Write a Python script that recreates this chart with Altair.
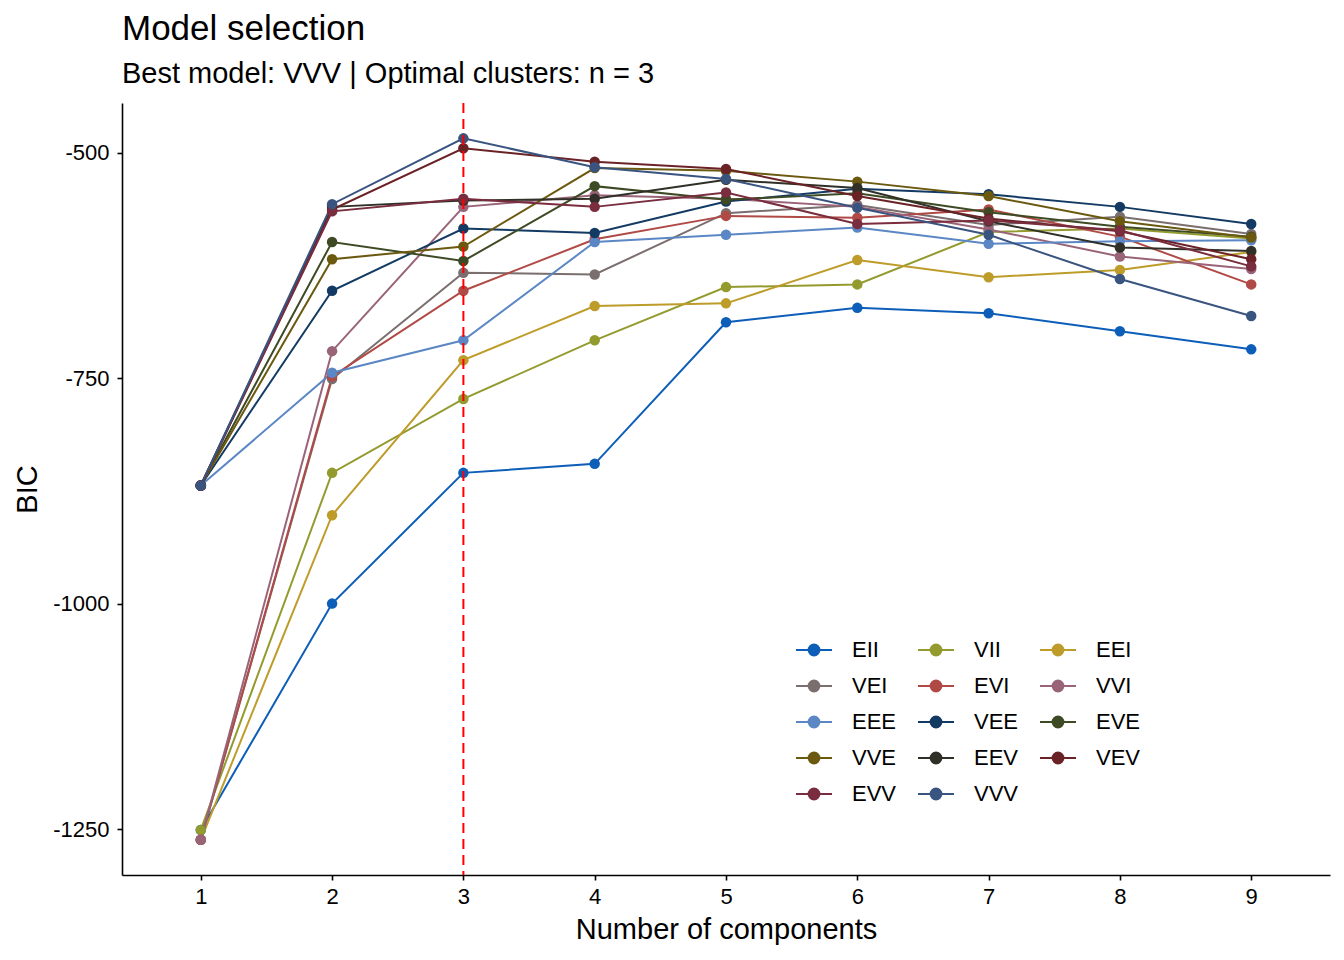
import altair as alt
import pandas as pd

models = ["EII", "VII", "EEI", "VEI", "EVI", "VVI", "EEE", "VEE", "EVE", "VVE", "EEV", "VEV", "EVV", "VVV"]
colors = ["#0D5EB8", "#939B2F", "#BE9C2A", "#7A6E6E", "#B04A46", "#9A6478", "#5B87C5",
          "#133A63", "#3D4A24", "#6B5910", "#303028", "#6B2226", "#792D3E", "#3A5480"]
components = [1, 2, 3, 4, 5, 6, 7, 8, 9]

bic_EII = [-1251, -1000, -855, -845, -688, -672, -678, -698, -718]
bic_VII = [-1251, -855, -773, -708, -649, -646, -588, -584, -595]
bic_EEI = [-1262, -902, -730, -670, -667, -619, -638, -630, -610]
bic_VEI = [-1262, -751, -633, -635, -567, -558, -580, -571, -590]
bic_EVI = [-1262, -748, -653, -596, -570, -572, -563, -593, -646]
bic_VVI = [-1262, -720, -560, -547, -551, -560, -585, -615, -629]
bic_EEE = [-869, -744, -708, -599, -591, -583, -601, -598, -597]
bic_VEE = [-869, -653, -584, -589, -554, -540, -546, -560, -579]
bic_EVE = [-869, -599, -620, -537, -552, -545, -566, -582, -593]
bic_VVE = [-869, -618, -604, -517, -520, -532, -548, -576, -594]
bic_EEV = [-869, -560, -553, -551, -530, -539, -576, -605, -609]
bic_VEV = [-869, -563, -495, -510, -518, -548, -573, -587, -618]
bic_EVV = [-869, -565, -551, -560, -544, -579, -575, -586, -626]
bic_VVV = [-869, -557, -484, -516, -529, -561, -591, -640, -681]

series = [bic_EII, bic_VII, bic_EEI, bic_VEI, bic_EVI, bic_VVI, bic_EEE,
          bic_VEE, bic_EVE, bic_VVE, bic_EEV, bic_VEV, bic_EVV, bic_VVV]

rows = []
for m, vals in zip(models, series):
    for c, v in zip(components, vals):
        rows.append({"model": m, "components": c, "BIC": v})
df = pd.DataFrame(rows)

FONT = "Liberation Sans"

xscale = alt.Scale(domain=[0.4, 9.6], nice=False, zero=False)
yscale = alt.Scale(domain=[-1301, -444.8], nice=False, zero=False)
cscale = alt.Scale(domain=models, range=colors)

sym_path = "M-1,0L1,0M-0.3,0A0.3,0.3,0,1,1,0.3,0A0.3,0.3,0,1,1,-0.3,0Z"

legend = alt.Legend(
    title=None,
    orient="none",
    legendX=673,
    legendY=528,
    columns=3,
    direction="horizontal",
    symbolType=sym_path,
    symbolSize=1296,
    symbolStrokeWidth=2,
    symbolOpacity=1,
    labelFontSize=22,
    labelFont=FONT,
    labelColor="black",
    labelOffset=19,
    columnPadding=17,
    rowPadding=6,
    padding=0,
)

x_enc = alt.X("components:Q", scale=xscale,
              axis=alt.Axis(title="Number of components", values=components, format="d",
                            labelFontSize=22, labelPadding=6, titlePadding=8))
y_enc = alt.Y("BIC:Q", scale=yscale,
              axis=alt.Axis(title="BIC", values=[-1250, -1000, -750, -500],
                            labelExpr="datum.value + ''",
                            labelFontSize=22, labelPadding=8, titlePadding=10))

lines = alt.Chart(df).mark_line(strokeWidth=2).encode(
    x=x_enc, y=y_enc,
    stroke=alt.Stroke("model:N", scale=cscale, sort=models, legend=legend),
    detail="model:N",
)
points = alt.Chart(df).mark_point(filled=True, size=110, opacity=1, strokeWidth=0).encode(
    x="components:Q", y="BIC:Q",
    fill=alt.Fill("model:N", scale=cscale, sort=models, legend=legend),
)

vline = alt.Chart(pd.DataFrame({"k": [3]})).mark_rule(
    color="red", strokeDash=[10, 6], strokeWidth=2
).encode(x=alt.X("k:Q", scale=xscale))

chart = alt.layer(lines, points, vline).properties(
    width=1208,
    height=772,
    autosize=alt.AutoSizeParams(type="none"),
    padding={"left": 122, "top": 103, "right": 14, "bottom": 85},
    title=alt.Title(
        "Model selection",
        subtitle="Best model: VVV | Optimal clusters: n = 3",
        anchor="start",
        frame="group",
        font=FONT,
        fontSize=35,
        fontWeight="normal",
        color="black",
        subtitleFont=FONT,
        subtitleFontSize=29,
        subtitleColor="black",
        subtitlePadding=13,
        offset=13,
    ),
).configure_view(stroke=None).configure_axis(
    grid=False,
    domainColor="black",
    domainWidth=1.6,
    tickColor="black",
    tickWidth=1.6,
    tickSize=5,
    labelFont=FONT,
    labelColor="black",
    titleFont=FONT,
    titleFontSize=29,
    titleFontWeight="normal",
    titleColor="black",
)

chart.save("out.html", embed_options={"renderer": "svg", "actions": False})
